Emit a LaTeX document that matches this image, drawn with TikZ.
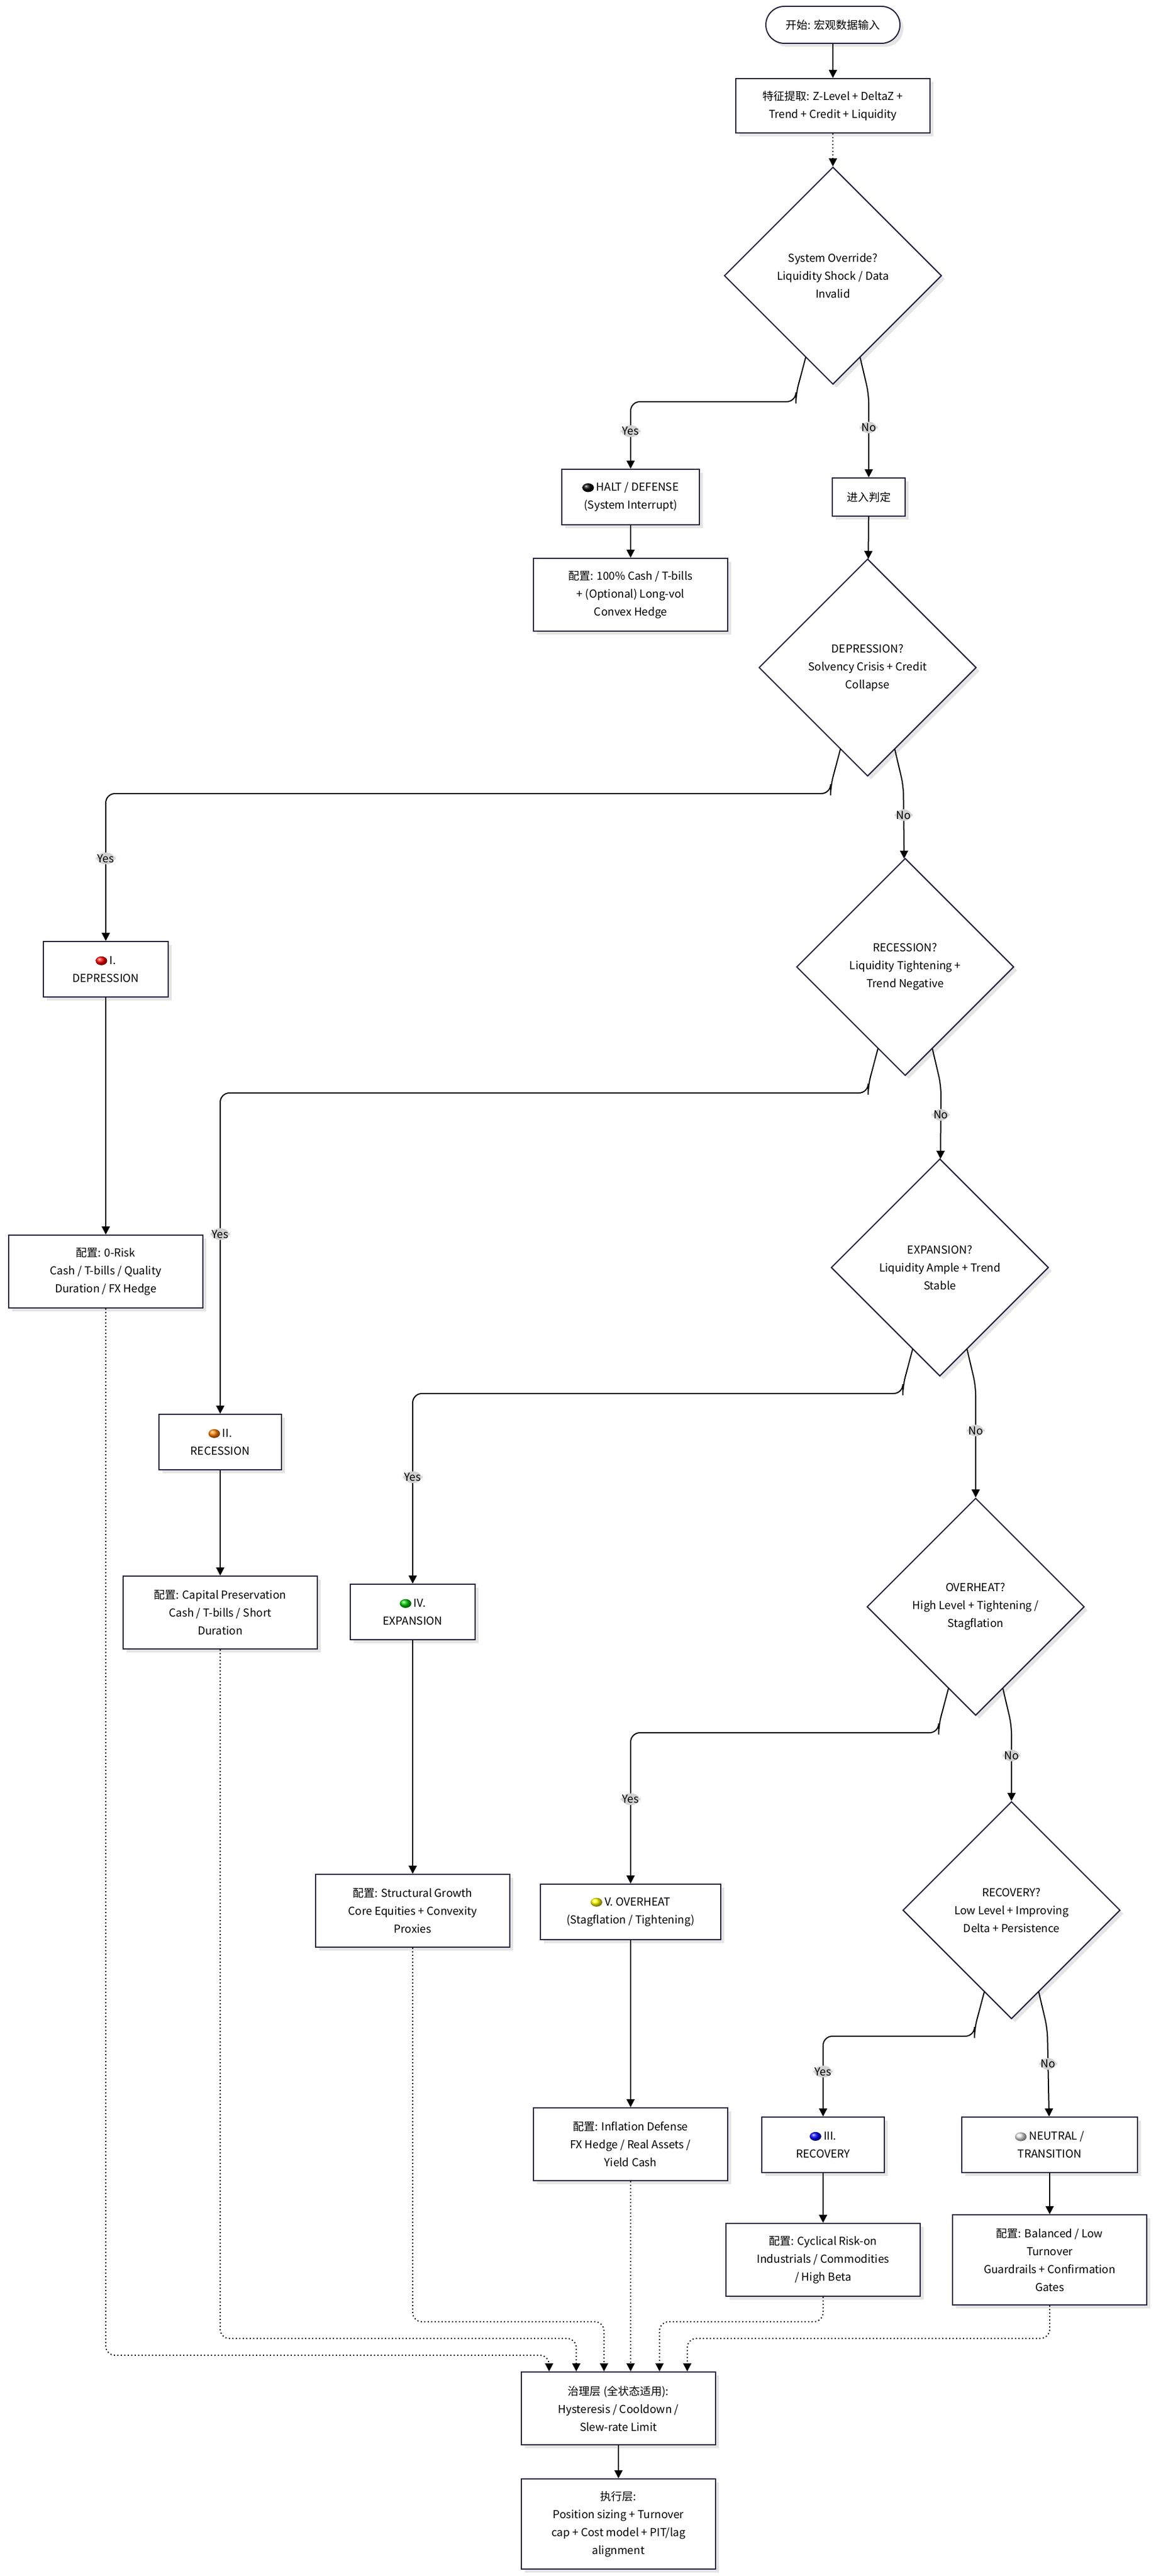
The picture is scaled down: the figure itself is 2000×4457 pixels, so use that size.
\documentclass[tikz,border=0pt]{standalone}
\usepackage{fontspec}
\setmainfont{Noto Sans CJK SC}
\usetikzlibrary{shapes.geometric,arrows.meta,calc,shadows}
\definecolor{bord}{HTML}{1E1E3C}
\newcommand\orb[1]{\tikz[baseline=-3pt]\shade[ball color=#1] (0,0) ellipse[x radius=5pt,y radius=3.8pt];\ }
\begin{document}
\begin{tikzpicture}[x=0.5pt,y=-0.5pt,
  every node/.style={font=\fontsize{9.5}{15.5}\selectfont},
  box/.style={draw=bord,line width=1pt,fill=white,align=center,inner sep=2pt,
    drop shadow={fill=black!10,shadow xshift=3pt,shadow yshift=-3pt,opacity=1}},
  dia/.style={diamond,aspect=1,draw=bord,line width=1pt,fill=white,align=center,
    minimum width=188pt,minimum height=188pt,inner sep=0pt,
    drop shadow={fill=black!10,shadow xshift=3pt,shadow yshift=-3pt,opacity=1}},
  lab/.style={fill=black!18,inner sep=1.5pt,font=\fontsize{9.5}{11}\selectfont},
  arr/.style={line width=1pt,-{Triangle[length=7pt,width=7pt]}},
  dot/.style={arr,dotted},
  br/.style={arr,rounded corners=8pt}]
\useasboundingbox[fill=white] (0,0) rectangle (2000,4457);
\node[box,rounded corners=16pt,minimum width=116pt,minimum height=32pt] (start) at (1441,43) {开始: 宏观数据输入};
\node[box,minimum width=168pt,minimum height=47pt] (feat) at (1441,183) {特征提取: Z-Level + DeltaZ +\\Trend + Credit + Liquidity};
\node[dia] (d1) at (1441,477) {System Override?\\Liquidity Shock / Data\\Invalid};
\node[box,minimum width=119pt,minimum height=48pt] (halt) at (1091,860) {\orb{black}HALT / DEFENSE\\(System Interrupt)};
\node[box,minimum width=63pt,minimum height=33pt] (enter) at (1503,860) {进入判定};
\node[box,minimum width=168pt,minimum height=63pt] (ahalt) at (1091,1029) {配置: 100\% Cash / T-bills\\+ (Optional) Long-vol\\Convex Hedge};
\node[dia] (d2) at (1501,1155) {DEPRESSION?\\Solvency Crisis + Credit\\Collapse};
\node[box,minimum width=108pt,minimum height=48pt] (dep) at (183,1677) {\orb{red}I.\\DEPRESSION};
\node[box,minimum width=168pt,minimum height=63pt] (a1) at (183,2200) {配置: 0-Risk\\Cash / T-bills / Quality\\Duration / FX Hedge};
\node[dia] (d3) at (1566,1673) {RECESSION?\\Liquidity Tightening +\\Trend Negative};
\node[box,minimum width=106pt,minimum height=48pt] (rec) at (381,2495) {\orb{orange}II.\\RECESSION};
\node[box,minimum width=168pt,minimum height=63pt] (a2) at (381,2790) {配置: Capital Preservation\\Cash / T-bills / Short\\Duration};
\node[dia] (d4) at (1626,2193) {EXPANSION?\\Liquidity Ample + Trend\\Stable};
\node[box,minimum width=108pt,minimum height=48pt] (exp) at (714,2789) {\orb{green!80!black}IV.\\EXPANSION};
\node[box,minimum width=168pt,minimum height=63pt] (a4) at (714,3306) {配置: Structural Growth\\Core Equities + Convexity\\Proxies};
\node[dia] (d5) at (1688,2780) {OVERHEAT?\\High Level + Tightening /\\Stagflation};
\node[box,minimum width=156pt,minimum height=48pt] (ovh) at (1091,3308) {\orb{yellow}V. OVERHEAT\\(Stagflation / Tightening)};
\node[box,minimum width=168pt,minimum height=63pt] (a5) at (1091,3710) {配置: Inflation Defense\\FX Hedge / Real Assets /\\Yield Cash};
\node[dia] (d6) at (1750,3305) {RECOVERY?\\Low Level + Improving\\Delta + Persistence};
\node[box,minimum width=106pt,minimum height=48pt] (rcv) at (1424,3711) {\orb{blue}III.\\RECOVERY};
\node[box,minimum width=152pt,minimum height=48pt] (neu) at (1816,3711) {\orb{black!12}NEUTRAL /\\TRANSITION};
\node[box,minimum width=168pt,minimum height=63pt] (a3) at (1424,3910) {配置: Cyclical Risk-on\\Industrials / Commodities\\/ High Beta};
\node[box,minimum width=168pt,minimum height=78pt] (an) at (1816,3910) {配置: Balanced / Low\\Turnover\\Guardrails + Confirmation\\Gates};
\node[box,minimum width=168pt,minimum height=63pt] (gov) at (1070,4167) {治理层 (全状态适用):\\Hysteresis / Cooldown /\\Slew-rate Limit};
\node[box,minimum width=168pt,minimum height=78pt] (exe) at (1070,4367) {执行层:\\Position sizing + Turnover\\cap + Cost model + PIT/lag\\alignment};

\draw[arr] (start) -- (feat);
\draw[dot] (feat) -- (d1);
% decision branches
\foreach \d/\y/\n in {d1/halt/enter, d2/dep/d3, d3/rec/d4, d4/exp/d5, d5/ovh/d6, d6/rcv/neu}{
  \draw[br] ($(\d)+(-47,141)$) -- ($(\d)+(-64,205)$) -- ($(\d)+(-64,218)$) -| node[lab,pos=0.72]{Yes} (\y);
  \draw[br] ($(\d)+(47,141)$) -- ($(\d)+(62,205)$) -- node[lab,pos=0.4]{No} (\n);
}
\draw[arr] (halt) -- (ahalt);
\draw[arr] (enter) -- (d2);
\draw[arr] (dep) -- (a1);
\draw[arr] (rec) -- (a2);
\draw[arr] (exp) -- (a4);
\draw[arr] (ovh) -- (a5);
\draw[arr] (rcv) -- (a3);
\draw[arr] (neu) -- (an);
\draw[arr] (gov) -- (exe);
% to governance
\draw[dot,rounded corners=8pt] (a1.south) |- (950,4075) -- ([xshift=-60pt]gov.north);
\draw[dot,rounded corners=8pt] (a2.south) |- (997,4046) -- ([xshift=-36.5pt]gov.north);
\draw[dot,rounded corners=8pt] (a4.south) |- (1045,4017) -- ([xshift=-12.5pt]gov.north);
\draw[dot] (a5.south) -- ([xshift=10.5pt]gov.north);
\draw[dot,rounded corners=8pt] (a3.south) |- (1141,4017) -- ([xshift=35.5pt]gov.north);
\draw[dot,rounded corners=8pt] (an.south) |- (1189,4046) -- ([xshift=59.5pt]gov.north);
\end{tikzpicture}
\end{document}
